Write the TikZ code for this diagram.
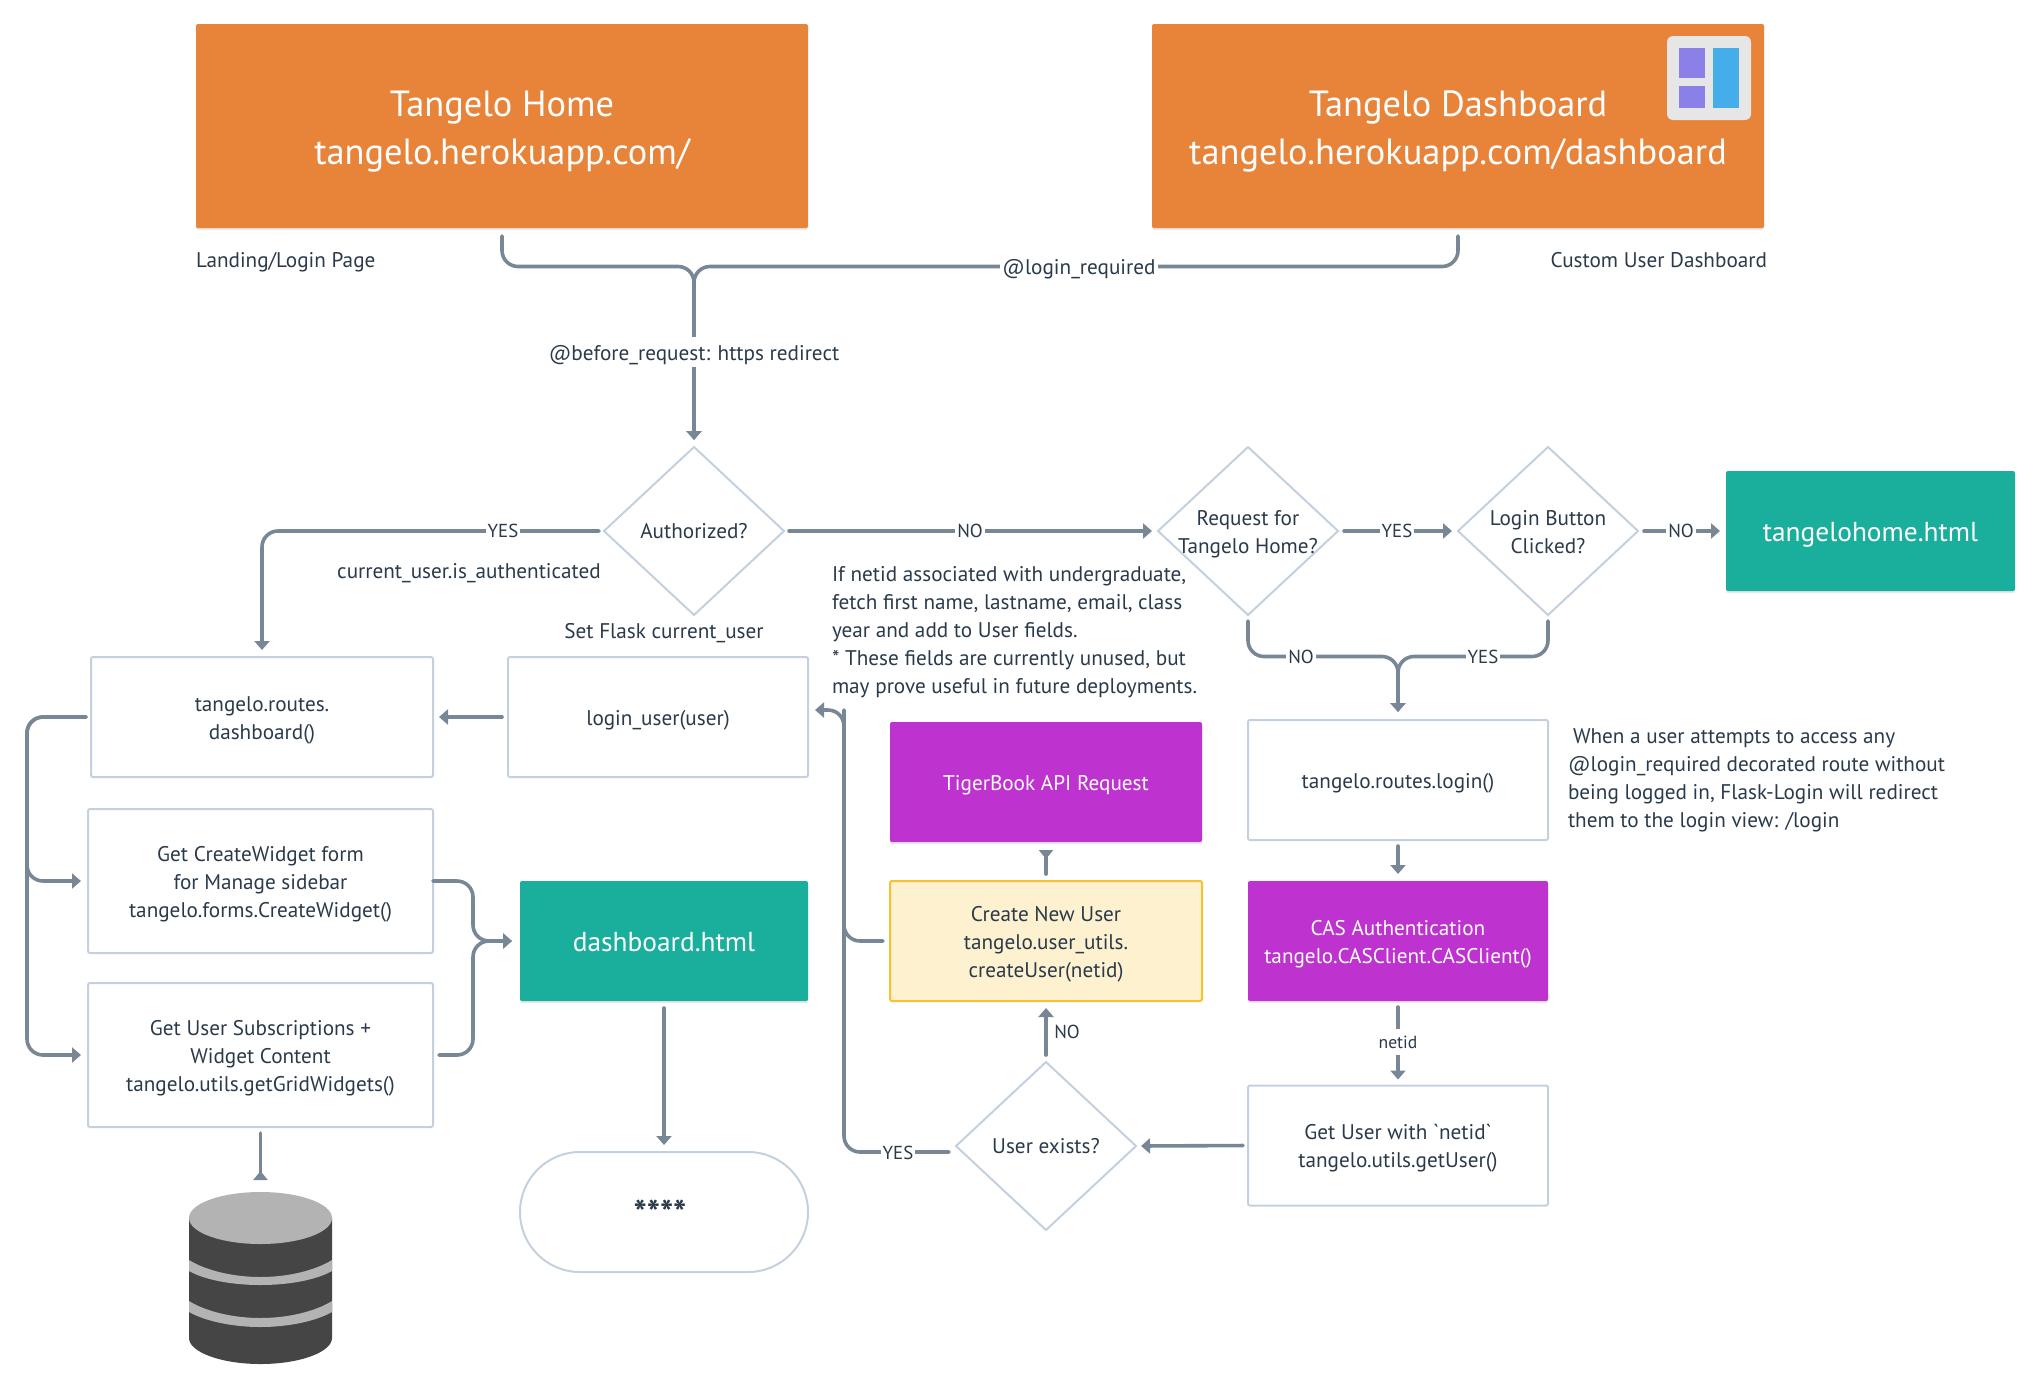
\documentclass[tikz,border=0pt]{standalone}
\usepackage{fontspec}
\setmainfont{PT Sans}
\usetikzlibrary{arrows.meta,shapes.geometric,shadows}
\definecolor{linecol}{HTML}{788796}
\definecolor{edgecol}{HTML}{C3D1DE}
\definecolor{inkcol}{HTML}{2A3A4A}
\definecolor{orangecol}{HTML}{E8833A}
\definecolor{tealcol}{HTML}{1AAE9C}
\definecolor{purplecol}{HTML}{BE33CF}
\definecolor{creamcol}{HTML}{FDF1CF}
\definecolor{goldcol}{HTML}{F7C22F}
\definecolor{dbdark}{HTML}{454545}
\definecolor{dblight}{HTML}{B3B3B3}
\definecolor{iconback}{HTML}{E6E6E6}
\definecolor{iconpurple}{HTML}{8B80E8}
\definecolor{iconblue}{HTML}{45AEEA}
\tikzset{
  every node/.style={text=inkcol,font=\fontsize{10.6}{14}\selectfont,align=center,outer sep=0pt,
    execute at begin node={\rule{0pt}{1em}},execute at end node={\vphantom{(}}},
  rows/.style={execute at begin node={\rule{0pt}{\dimexpr#1\baselineskip+1em\relax}}},
  plainbox/.style={draw=edgecol,line width=1pt,rounded corners=1pt,minimum width=#1,minimum height=60pt,inner sep=0pt},
  fillbox/.style={fill=#1,rounded corners=1pt,minimum width=150pt,minimum height=60pt,inner sep=0pt,text=white,
    drop shadow={shadow xshift=0pt,shadow yshift=-1pt,opacity=.18}},
  question/.style={draw=edgecol,line width=1pt,shape=diamond,shape aspect=1,minimum width=90pt,minimum height=84pt,inner sep=0pt},
  conn/.style={draw=linecol,line width=1.8pt,rounded corners=8pt,line cap=round},
  arr/.style={conn,-{Triangle[length=4.5pt,width=7.5pt]}},
  revarr/.style={conn,-{Triangle[reversed,length=4.5pt,width=7pt]}},
  lab/.style={fill=white,inner sep=1pt},
  tag/.style={lab,font=\fontsize{9.4}{14}\selectfont},
  bigtext/.style={font=\fontsize{18.2}{24}\selectfont},
  freetext/.style={inner sep=0pt,align=left}
}
\begin{document}
\begin{tikzpicture}[x=0.5pt,y=-0.5pt]
   \useasboundingbox (0,0) rectangle (2038,1392);
   % top pages
   \node[fillbox=orangecol,minimum width=306pt,minimum height=102pt,bigtext,rows=1] (home) at (502,126) {Tangelo Home\\tangelo.herokuapp.com/};
   \node[fillbox=orangecol,minimum width=306pt,minimum height=102pt,bigtext,rows=1] (dashtop) at (1458,126) {Tangelo Dashboard\\tangelo.herokuapp.com/dashboard};
   \fill[rounded corners=3pt,fill=iconback] (1667,36) rectangle (1751,120);
   \fill[fill=iconpurple] (1679,48) rectangle (1705,78);
   \fill[fill=iconpurple] (1679,86) rectangle (1705,108);
   \fill[fill=iconblue] (1713,48) rectangle (1739,108);
   \node[freetext,anchor=west] (landing) at (196,259) {Landing/Login Page};
   \node[freetext,anchor=east] (custom) at (1767,259) {Custom User Dashboard};

   % questions
   \node[question] (auth) at (694,531) {};
   \node (authtext) at ([yshift=.5pt]auth) {Authorized?};
   \node[question] (request) at (1248,531) {};
   \node[rows=1] (requesttext) at (request) {Request for\\Tangelo Home?};
   \node[question] (clicked) at (1548,531) {};
   \node[rows=1] (clickedtext) at (clicked) {Login Button\\Clicked?};
   \node[question] (exists) at (1046,1146) {};
   \node (existstext) at ([yshift=.5pt]exists) {User exists?};

   % boxes
   \node[fillbox=tealcol,minimum width=144.5pt,font=\fontsize{13.7}{20}\selectfont] (homehtml) at (1870.5,531) {tangelohome.html};
   \node[plainbox=171pt,rows=1] (routes) at (262,717) {tangelo.routes.\\dashboard()};
   \node[plainbox=150pt] (loginuser) at (658,717) {login\_user(user)};
   \node[plainbox=172.5pt,minimum height=72pt,rows=2] (widget) at (260.5,881) {Get CreateWidget form\\for Manage sidebar\\tangelo.forms.CreateWidget()};
   \node[plainbox=172.5pt,minimum height=72pt,rows=2] (subs) at (260.5,1055) {Get User Subscriptions +\\Widget Content\\tangelo.utils.getGridWidgets()};
   \node[fillbox=tealcol,minimum width=144pt,font=\fontsize{13.7}{20}\selectfont] (dashhtml) at (664,941) {dashboard.html};
   \node[plainbox=144pt,rounded corners=30pt] (pill) at (664,1212) {};
   \node[font=\fontsize{17.5}{14}\selectfont\bfseries] (stars) at (660,1212) {****};
   \node[plainbox=150pt] (loginroute) at (1398,780) {tangelo.routes.login()};
   \node[fillbox=purplecol,rows=1] (cas) at (1398,941) {CAS Authentication\\tangelo.CASClient.CASClient()};
   \node[plainbox=150pt,rows=1] (getuser) at (1398,1145.5) {Get User with \textasciigrave netid\textasciigrave\\tangelo.utils.getUser()};
   \node[fillbox=purplecol,minimum width=156pt] (tiger) at (1046,782) {TigerBook API Request};
   \node[draw=goldcol,fill=creamcol,line width=1pt,rounded corners=1pt,minimum width=156pt,minimum height=60pt,inner sep=0pt,rows=2] (create) at (1046,941) {Create New User\\tangelo.user\_utils.\\createUser(netid)};

   % database
   \coordinate (dbtop) at (260.5,1192);
   \fill[dbdark] (189,1218) -- (189,1338) .. controls (189,1352) and (221,1364) .. (260.5,1364) .. controls (300,1364) and (332,1352) .. (332,1338) -- (332,1218) -- cycle;
   \fill[dblight] (260.5,1218) ellipse [x radius=71.5,y radius=26];
   \fill[dblight] (189,1260) .. controls (205,1270) and (232,1277) .. (260.5,1277) .. controls (289,1277) and (316,1270) .. (332,1260) -- (332,1271) .. controls (316,1280) and (289,1285) .. (260.5,1285) .. controls (232,1285) and (205,1280) .. (189,1271) -- cycle;
   \fill[dblight] (189,1301) .. controls (205,1311) and (232,1318) .. (260.5,1318) .. controls (289,1318) and (316,1311) .. (332,1301) -- (332,1312) .. controls (316,1321) and (289,1327) .. (260.5,1327) .. controls (232,1327) and (205,1321) .. (189,1312) -- cycle;

   % connectors
   \coordinate (jointop) at (694,266.5);
   \coordinate (joinlogin) at (1398,656.5);
   \coordinate (busleft) at (27,717);
   \coordinate (joindash) at (473,941);
   \coordinate (busup) at (844,710);
   \draw[arr,shorten <=4pt,shorten >=3.5pt] (home.south) |- (jointop) -- (auth.north);
   \draw[arr,shorten <=4pt,shorten >=3.5pt] (dashtop.south) |- (jointop) -- (auth.north);
   \draw[arr,shorten <=2.5pt,shorten >=3.5pt] (auth.west) -| (routes.north);
   \draw[arr,shorten <=2.5pt,shorten >=3pt] (auth.east) -- (request.west);
   \draw[arr,shorten <=3pt,shorten >=3pt] (request.east) -- (clicked.west);
   \draw[arr,shorten <=3pt,shorten >=3pt] (clicked.east) -- (homehtml.west);
   \draw[arr,shorten <=3pt,shorten >=4pt] (request.south) |- (joinlogin) -- (loginroute.north);
   \draw[arr,shorten <=3pt,shorten >=4pt] (clicked.south) |- (joinlogin) -- (loginroute.north);
   \draw[arr,shorten <=3pt,shorten >=3pt] (loginuser.west) -- (routes.east);
   \draw[arr,shorten <=2.5pt,shorten >=3.5pt] (routes.west) -- (busleft) |- (widget.west);
   \draw[arr,shorten <=2.5pt,shorten >=3.5pt] (routes.west) -- (busleft) |- (subs.west);
   \draw[arr,shorten >=4pt] (widget.east) -| (joindash) -- (dashhtml.west);
   \draw[arr,shorten <=3pt,shorten >=4pt] (subs.east) -| (joindash) -- (dashhtml.west);
   \draw[arr,shorten <=3.5pt,shorten >=3.5pt] (dashhtml.south) -- (pill.north);
   \draw[revarr,shorten <=3pt,shorten >=6pt] (subs.south) -- (dbtop);
   \draw[arr,shorten <=3pt,shorten >=3.5pt] (loginroute.south) -- (cas.north);
   \draw[arr,shorten <=3pt,shorten >=3pt] (cas.south) -- (getuser.north);
   \draw[arr,shorten <=2.5pt,shorten >=2.5pt] (getuser.west) -- (exists.east);
   \draw[arr,shorten <=3.5pt,shorten >=3.5pt] (exists.north) -- (create.south);
   \draw[revarr,shorten <=3.5pt,shorten >=4pt] (create.north) -- (tiger.south);
   \draw[conn,shorten <=3.5pt] (create.west) -| (busup);
   \draw[arr,shorten <=3.5pt,shorten >=3.5pt] ([yshift=-3pt]exists.west) -| (busup) -- ([yshift=3.5pt]loginuser.east);

   % labels
   \node[lab] (required) at (1079,266.5) {@login\_required};
   \node[lab] (redirect) at (694,352) {@before\_request: https redirect};
   \node[tag] (yesauth) at (503,530.5) {YES};
   \node (isauth) at (469,570) {current\_user.is\_authenticated};
   \node[tag] (noauth) at (970,530.5) {NO};
   \node[tag] (yesrequest) at (1397,530.5) {YES};
   \node[tag] (noclicked) at (1681,530.5) {NO};
   \node[tag] (norequest) at (1301,656.5) {NO};
   \node[tag] (yesclicked) at (1483,656.5) {YES};
   \node (setflask) at (664,630.5) {Set Flask current\_user};
   \node[freetext,anchor=west] (netidnote) at (832,632.5) {If netid associated with undergraduate,\\fetch first name, lastname, email, class\\year and add to User fields.\\* These fields are currently unused, but\\may prove useful in future deployments.};
   \node[freetext,anchor=west] (loginnote) at (1568,780.5) {\hspace{2.5pt}When a user attempts to access any\\@login\_required decorated route without\\being logged in, Flask-Login will redirect\\them to the login view: /login};
   \node[lab,font=\fontsize{8.8}{10}\selectfont] (netidlab) at (1398,1042) {netid};
   \node[tag,fill=none] (noexists) at (1067,1031) {NO};
   \node[tag] (yesexists) at (898,1152) {YES};
 \end{tikzpicture}
\end{document}
